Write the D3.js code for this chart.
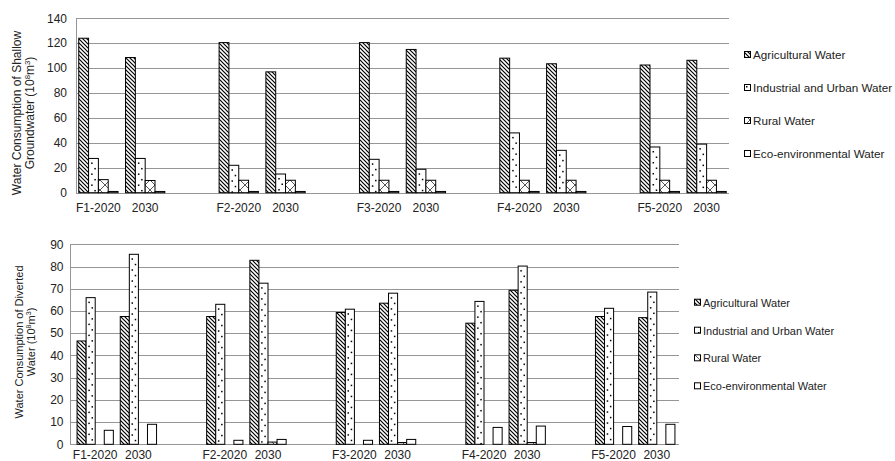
<!DOCTYPE html>
<html>
<head>
<meta charset="utf-8">
<script src="https://cdn.jsdelivr.net/npm/d3@7"></script>
<style>
  html, body { margin: 0; padding: 0; background: #fff; }
  svg { display: block; font-family: "Liberation Sans", Arial, sans-serif; }
</style>
</head>
<body>
<svg id="chart" width="895" height="461"></svg>
<script>
// Scenarios (period labels along the x axis)
const scenarios = ["F1-2020", "2030", "F2-2020", "2030", "F3-2020", "2030", "F4-2020", "2030", "F5-2020", "2030"];
const seriesNames = ["Agricultural Water", "Industrial and Urban Water", "Rural Water", "Eco-environmental Water"];

// Shallow groundwater consumption (10^8 m3)
const shallowAgri  = [124, 108.5, 120.5, 97, 120.5, 115, 108, 103.5, 102.5, 106.3];
const shallowInd   = [27.5, 27.5, 22, 15, 26.8, 18.8, 48, 34, 36.7, 39];
const shallowRural = [10.5, 9.8, 10, 10, 10, 10, 10, 10, 10, 10];
const shallowEco   = [1, 1, 1, 1, 1, 1, 1, 1, 1, 1];
const shallowTicks = [0, 20, 40, 60, 80, 100, 120, 140];

// Diverted water consumption (10^8 m3)
const divertedAgri  = [46.5, 57.5, 57.5, 82.8, 59.3, 63.5, 54.5, 69.3, 57.5, 57];
const divertedInd   = [66, 85.5, 63, 72.5, 60.8, 68, 64.3, 80.2, 61.2, 68.5];
const divertedRural = [0, 0, 0, 1, 0, 0.8, 0, 0.8, 0, 0];
const divertedEco   = [6.3, 9, 1.8, 2.2, 1.8, 2.2, 7.6, 8.2, 8, 9];
const divertedTicks = [0, 10, 20, 30, 40, 50, 60, 70, 80, 90];

const svg = d3.select("#chart");
const defs = svg.append("defs");

// Fill patterns for the water types
const p1 = defs.append("pattern").attr("id", "p-agri")
  .attr("patternUnits", "userSpaceOnUse").attr("width", 4).attr("height", 4);
p1.append("rect").attr("width", 4).attr("height", 4).attr("fill", "#fff");
p1.append("path").attr("d", "M-1,-1L5,5M3,-1L5,1M-1,3L1,5")
  .attr("stroke", "#000").attr("stroke-width", 1.2);

const p2 = defs.append("pattern").attr("id", "p-ind")
  .attr("patternUnits", "userSpaceOnUse").attr("width", 6).attr("height", 6);
p2.append("rect").attr("width", 6).attr("height", 6).attr("fill", "#fff");
p2.append("rect").attr("x", 2).attr("y", 2).attr("width", 1.5).attr("height", 1.5).attr("fill", "#000");

const p3 = defs.append("pattern").attr("id", "p-rural")
  .attr("patternUnits", "userSpaceOnUse").attr("width", 10).attr("height", 10);
p3.append("rect").attr("width", 10).attr("height", 10).attr("fill", "#fff");
p3.append("path").attr("d", "M0,0L10,10M10,0L0,10")
  .attr("stroke", "#444").attr("stroke-width", 0.9);

const fills = ["url(#p-agri)", "#fff", "url(#p-rural)", "#fff"];
const legendFills = ["url(#p-agri)", "url(#p-ind)", "url(#p-rural)", "#fff"];

// Category slots: a blank spacer between scenario pairs
const slots = [];
scenarios.forEach((s, i) => {
  slots.push({ key: "s" + i, label: s, idx: i });
  if (i % 2 === 1 && i < scenarios.length - 1) slots.push({ key: "gap" + i, label: "", idx: -1 });
});

function drawPanel(cfg) {
  const g = svg.append("g");
  const x0 = d3.scaleBand().domain(slots.map(d => d.key)).range(cfg.xRange).padding(0);
  const bw = x0.bandwidth();
  const pad = bw * 0.08;
  const x1 = d3.scaleBand().domain(seriesNames).range([pad, bw - pad]).padding(0);
  const y = d3.scaleLinear().domain([0, cfg.ticks[cfg.ticks.length - 1]]).range([cfg.y0, cfg.y1]);

  // gridlines
  g.selectAll("line.grid").data(cfg.ticks).join("line")
    .attr("x1", cfg.axisX).attr("x2", cfg.gridEnd)
    .attr("y1", d => Math.round(y(d)) + 0.5).attr("y2", d => Math.round(y(d)) + 0.5)
    .attr("stroke", "#969696").attr("stroke-width", 1);

  // y axis line
  g.append("line").attr("x1", cfg.axisX + 0.5).attr("x2", cfg.axisX + 0.5)
    .attr("y1", Math.round(y(cfg.ticks[cfg.ticks.length - 1])) + 0.5)
    .attr("y2", Math.round(y(0)) + 0.5)
    .attr("stroke", "#969696");

  // y tick labels
  g.selectAll("text.tick").data(cfg.ticks).join("text")
    .attr("x", cfg.tickRight).attr("y", d => y(d)).attr("dy", "0.35em")
    .attr("text-anchor", "end").attr("font-size", 12).attr("fill", "#222")
    .text(d => d);

  // bars
  const values = cfg.values;
  slots.filter(s => s.idx >= 0).forEach(s => {
    seriesNames.forEach((name, k) => {
      const v = values[k][s.idx];
      if (!v) return;
      const bx = x0(s.key) + x1(name);
      const by = y(v);
      const bwid = x1.bandwidth();
      const bh = y(0) - y(v);
      g.append("rect")
        .attr("x", bx).attr("y", by)
        .attr("width", bwid).attr("height", bh)
        .attr("fill", fills[k])
        .attr("stroke", "#000").attr("stroke-width", 1);
      if (k === 1) {
        // dotted fill: a zig-zag column of small dots
        const rows = d3.range(by + 4, y(0) - 1, 5.5);
        g.selectAll(null).data(rows).join("rect")
          .attr("x", (d, i) => bx + bwid / 2 - 0.75 + (i % 2 ? 1.6 : -1.6))
          .attr("y", d => d)
          .attr("width", 1.5).attr("height", 1.5)
          .attr("fill", "#000");
      }
    });
  });

  // x labels
  g.selectAll("text.xl").data(slots.filter(s => s.idx >= 0)).join("text")
    .attr("x", d => x0(d.key) + bw / 2).attr("y", cfg.labelY)
    .attr("text-anchor", "middle").attr("font-size", 12).attr("fill", "#222")
    .text(d => d.label);

  // y axis title (two lines, rotated)
  cfg.title.forEach((line, i) => {
    const t = g.append("text")
      .attr("transform", `translate(${cfg.titleX[i]},${cfg.titleY}) rotate(-90)`)
      .attr("text-anchor", "middle").attr("font-size", cfg.titleSize).attr("fill", "#222");
    if (i === 0) {
      t.text(line);
    } else {
      t.append("tspan").text(line + " (10");
      t.append("tspan").attr("font-size", cfg.titleSize * 0.65).attr("dy", -4).text("8");
      t.append("tspan").attr("dy", 4).text("m");
      t.append("tspan").attr("font-size", cfg.titleSize * 0.65).attr("dy", -4).text("3");
      t.append("tspan").attr("dy", 4).text(")");
    }
  });

  // legend
  seriesNames.forEach((name, k) => {
    const ly = cfg.legendY[k];
    g.append("rect").attr("x", cfg.legendX + 0.5).attr("y", ly - 3.5)
      .attr("width", 6).attr("height", 6)
      .attr("fill", legendFills[k]).attr("stroke", "#000").attr("stroke-width", 1);
    g.append("text").attr("x", cfg.legendX + 9).attr("y", ly).attr("dy", "0.35em")
      .attr("font-size", cfg.legendSize).attr("fill", "#222").text(name);
  });
}

drawPanel({
  values: [shallowAgri, shallowInd, shallowRural, shallowEco],
  ticks: shallowTicks,
  xRange: [75, 730], axisX: 76, gridEnd: 729,
  y0: 192.7, y1: 18.3, tickRight: 67, labelY: 212,
  title: ["Water Consumption of Shallow", "Groundwater"],
  titleX: [21, 34], titleY: 113, titleSize: 12,
  legendX: 744, legendY: [55, 88, 121, 154], legendSize: 11.7
});

drawPanel({
  values: [divertedAgri, divertedInd, divertedRural, divertedEco],
  ticks: divertedTicks,
  xRange: [73.6, 678.4], axisX: 70, gridEnd: 679,
  y0: 444.3, y1: 244.3, tickRight: 63.5, labelY: 459,
  title: ["Water Consumption of Diverted", "Water"],
  titleX: [23, 35], titleY: 342, titleSize: 11,
  legendX: 694, legendY: [302.7, 330.7, 358.3, 386.3], legendSize: 11
});
</script>
</body>
</html>
